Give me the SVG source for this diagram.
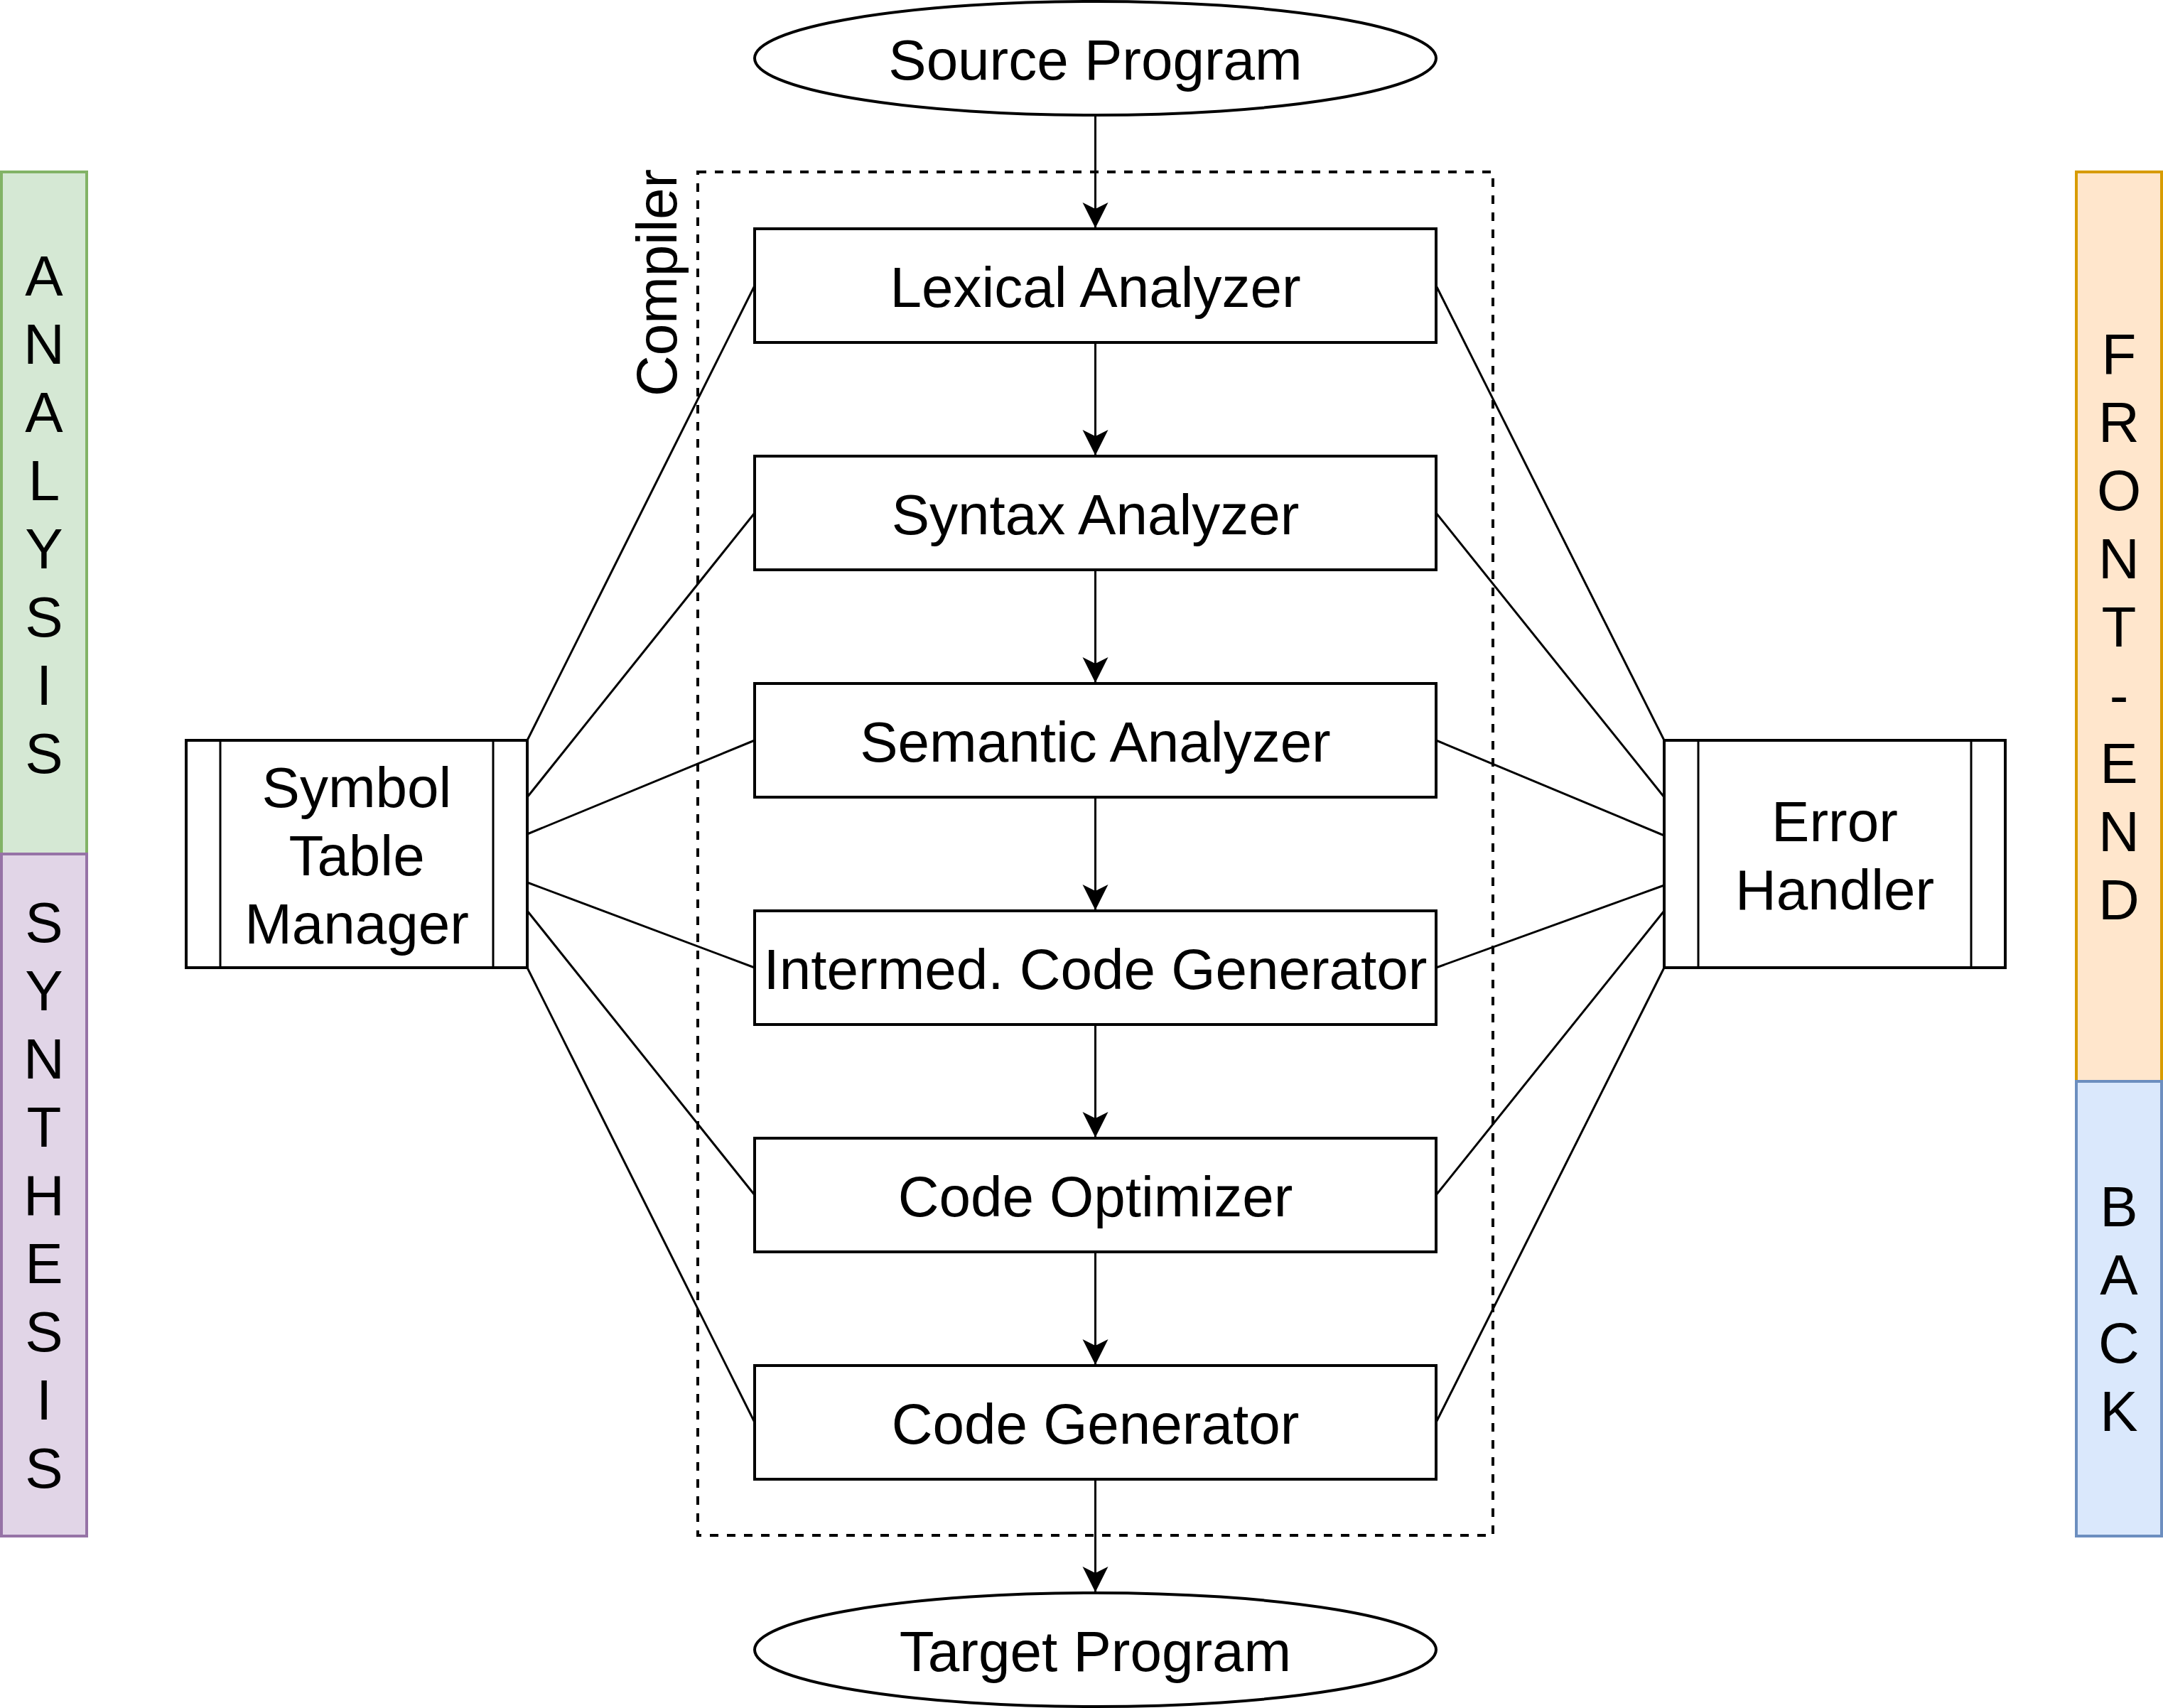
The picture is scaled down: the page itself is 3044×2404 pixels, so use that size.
<svg xmlns="http://www.w3.org/2000/svg" width="3044" height="2404" viewBox="0 0 3044 2404">
<style>
  text { font-family: "Liberation Sans", Arial, Helvetica, sans-serif; font-size: 80px; fill: #000; }
  .c { text-anchor: middle; }
  .box { fill: #fff; stroke: #000; stroke-width: 4; }
  .ln { fill: none; stroke: #000; stroke-width: 3; }
  .arr { fill: none; stroke: #000; stroke-width: 3; marker-end: url(#ah); }
</style>
<defs>
  <marker id="ah" markerUnits="userSpaceOnUse" markerWidth="40" markerHeight="40" viewBox="0 0 40 40" refX="36" refY="20" orient="auto">
    <path d="M0,2 L36,20 L0,38 L9,20 Z" fill="#000"/>
  </marker>
</defs>
<rect width="3044" height="2404" fill="#fff"/>

<g id="compiler-boundary">
  <rect x="982" y="242" width="1119" height="1919" fill="none" stroke="#000" stroke-width="4" stroke-dasharray="12 12"/>
  <text class="c" transform="translate(952,398) rotate(-90)">Compiler</text>
</g>

<g id="analysis">
  <rect x="2" y="242" width="120" height="960" fill="#d5e8d4" stroke="#82b366" stroke-width="4"/>
  <text class="c" x="62" y="416">A</text>
  <text class="c" x="62" y="512">N</text>
  <text class="c" x="62" y="608">A</text>
  <text class="c" x="62" y="704">L</text>
  <text class="c" x="62" y="800">Y</text>
  <text class="c" x="62" y="896">S</text>
  <text class="c" x="62" y="992">I</text>
  <text class="c" x="62" y="1088">S</text>
</g>
<g id="synthesis">
  <rect x="2" y="1202" width="120" height="960" fill="#e1d5e7" stroke="#9673a6" stroke-width="4"/>
  <text class="c" x="62" y="1326">S</text>
  <text class="c" x="62" y="1422">Y</text>
  <text class="c" x="62" y="1518">N</text>
  <text class="c" x="62" y="1614">T</text>
  <text class="c" x="62" y="1710">H</text>
  <text class="c" x="62" y="1806">E</text>
  <text class="c" x="62" y="1902">S</text>
  <text class="c" x="62" y="1998">I</text>
  <text class="c" x="62" y="2094">S</text>
</g>
<g id="front-end">
  <rect x="2922" y="242" width="120" height="1280" fill="#ffe6cc" stroke="#d79b00" stroke-width="4"/>
  <text class="c" x="2982" y="526">F</text>
  <text class="c" x="2982" y="622">R</text>
  <text class="c" x="2982" y="718">O</text>
  <text class="c" x="2982" y="814">N</text>
  <text class="c" x="2982" y="910">T</text>
  <text class="c" x="2982" y="1006">-</text>
  <text class="c" x="2982" y="1102">E</text>
  <text class="c" x="2982" y="1198">N</text>
  <text class="c" x="2982" y="1294">D</text>
</g>
<g id="back">
  <rect x="2922" y="1522" width="120" height="640" fill="#dae8fc" stroke="#6c8ebf" stroke-width="4"/>
  <text class="c" x="2982" y="1726">B</text>
  <text class="c" x="2982" y="1822">A</text>
  <text class="c" x="2982" y="1918">C</text>
  <text class="c" x="2982" y="2014">K</text>
</g>

<g id="connectors">
  <line class="arr" x1="1541.5" y1="162" x2="1541.5" y2="321"/>
  <line class="arr" x1="1541.5" y1="482" x2="1541.5" y2="641"/>
  <line class="arr" x1="1541.5" y1="802" x2="1541.5" y2="961"/>
  <line class="arr" x1="1541.5" y1="1122" x2="1541.5" y2="1281"/>
  <line class="arr" x1="1541.5" y1="1442" x2="1541.5" y2="1601"/>
  <line class="arr" x1="1541.5" y1="1762" x2="1541.5" y2="1921"/>
  <line class="arr" x1="1541.5" y1="2082" x2="1541.5" y2="2241"/>

  <line class="ln" x1="742" y1="1042" x2="1062" y2="402"/>
  <line class="ln" x1="742" y1="1122" x2="1062" y2="722"/>
  <line class="ln" x1="742" y1="1174" x2="1062" y2="1042"/>
  <line class="ln" x1="742" y1="1242" x2="1062" y2="1362"/>
  <line class="ln" x1="742" y1="1282" x2="1062" y2="1682"/>
  <line class="ln" x1="742" y1="1362" x2="1062" y2="2002"/>

  <line class="ln" x1="2021" y1="402" x2="2342" y2="1042"/>
  <line class="ln" x1="2021" y1="722" x2="2342" y2="1122"/>
  <line class="ln" x1="2021" y1="1042" x2="2342" y2="1176"/>
  <line class="ln" x1="2021" y1="1362" x2="2342" y2="1246"/>
  <line class="ln" x1="2021" y1="1682" x2="2342" y2="1282"/>
  <line class="ln" x1="2021" y1="2002" x2="2342" y2="1362"/>
</g>

<g id="source-program">
  <ellipse class="box" cx="1541.5" cy="82" rx="479.5" ry="80"/>
  <text class="c" x="1541.5" y="112">Source Program</text>
</g>
<g id="lexical-analyzer">
  <rect class="box" x="1062" y="322" width="959" height="160"/>
  <text class="c" x="1541.5" y="432">Lexical Analyzer</text>
</g>
<g id="syntax-analyzer">
  <rect class="box" x="1062" y="642" width="959" height="160"/>
  <text class="c" x="1541.5" y="752">Syntax Analyzer</text>
</g>
<g id="semantic-analyzer">
  <rect class="box" x="1062" y="962" width="959" height="160"/>
  <text class="c" x="1541.5" y="1072">Semantic Analyzer</text>
</g>
<g id="intermediate-code-generator">
  <rect class="box" x="1062" y="1282" width="959" height="160"/>
  <text class="c" x="1541.5" y="1392">Intermed. Code Generator</text>
</g>
<g id="code-optimizer">
  <rect class="box" x="1062" y="1602" width="959" height="160"/>
  <text class="c" x="1541.5" y="1712">Code Optimizer</text>
</g>
<g id="code-generator">
  <rect class="box" x="1062" y="1922" width="959" height="160"/>
  <text class="c" x="1541.5" y="2032">Code Generator</text>
</g>
<g id="target-program">
  <ellipse class="box" cx="1541.5" cy="2322" rx="479.5" ry="80"/>
  <text class="c" x="1541.5" y="2352">Target Program</text>
</g>

<g id="symbol-table-manager">
  <rect class="box" x="262" y="1042" width="480" height="320"/>
  <line class="ln" x1="310" y1="1042" x2="310" y2="1362" stroke-width="4"/>
  <line class="ln" x1="694" y1="1042" x2="694" y2="1362" stroke-width="4"/>
  <text class="c" x="502" y="1136">Symbol</text>
  <text class="c" x="502" y="1232">Table</text>
  <text class="c" x="502" y="1328">Manager</text>
</g>
<g id="error-handler">
  <rect class="box" x="2342" y="1042" width="480" height="320"/>
  <line class="ln" x1="2390" y1="1042" x2="2390" y2="1362" stroke-width="4"/>
  <line class="ln" x1="2774" y1="1042" x2="2774" y2="1362" stroke-width="4"/>
  <text class="c" x="2582" y="1184">Error</text>
  <text class="c" x="2582" y="1280">Handler</text>
</g>
</svg>
